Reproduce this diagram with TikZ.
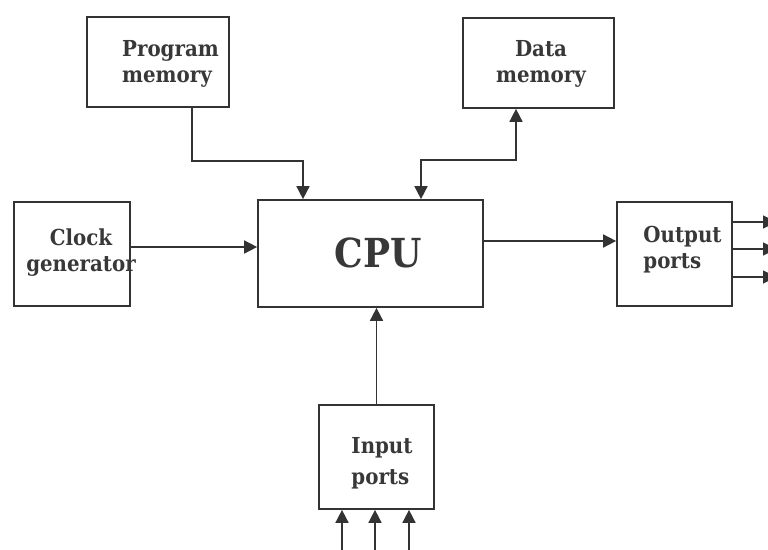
\documentclass[tikz,border=0pt]{standalone}
\usepackage{fontspec}
\setmainfont{DejaVu Serif Condensed}
\usetikzlibrary{positioning, arrows.meta}
\definecolor{inkgrey}{HTML}{333333}
\definecolor{txtgrey}{HTML}{383838}

\begin{document}
\begin{tikzpicture}[x=1pt, y=-1pt,
>={Triangle[length=13pt, width=13pt]},
block/.style={draw=inkgrey, line width=1.7pt, rectangle, inner sep=0pt},
lbl/.style={text=txtgrey, font=\bfseries\fontsize{22}{26}\selectfont, inner sep=0pt},
conn/.style={draw=inkgrey, line width=1.6pt}]

\useasboundingbox (0,0) rectangle (768,549);

% blocks
\node[block, minimum width=142pt, minimum height=90pt]	(pm)	at (158,62)		{};
\node[block, minimum width=151pt, minimum height=90pt]	(dm)	at (538.5,63)	{};
\node[block, minimum width=225pt, minimum height=107pt]	(cpu)	at (370.5,253.5)	{};
\node[block, minimum width=116pt, minimum height=104pt]	(clk)	at (72,254)		{};
\node[block, minimum width=115pt, minimum height=104pt]	(op)	at (674.5,254)	{};
\node[block, minimum width=115pt, minimum height=104pt]	(ip)	at (376.5,457)	{};

% texts
\node[lbl, align=left]		(pmtext)	at (170.5,64)	{Program\\memory};
\node[lbl, align=center]	(dmtext)	at (541,64)		{Data\\memory};
\node[lbl, align=center]	(clktext)	at (81,253)		{Clock\\generator};
\node[lbl, font=\bfseries\fontsize{40}{44}\selectfont]	(cputext)	at (378.5,253)	{CPU};
\node[lbl, align=left]		(optext)	at (682.5,250)	{Output\\ports};
\node[lbl, align=left, font=\bfseries\fontsize{22}{31}\selectfont]	(iptext)	at (382,463)	{Input\\ports};

% free ends
\coordinate (clkout) at ([yshift=7pt]clk.east);
\coordinate (cpuout) at ([yshift=12.5pt]cpu.east);
\coordinate (outedge) at (776,0);
\coordinate (inedge) at (0,552);

\draw[conn, ->] ([xshift=34pt]pm.south) -- ++(0,53) -| ([xshift=-67.5pt]cpu.north);
\draw[conn, <->] ([xshift=50.5pt]cpu.north) -- ++(0,-39) -| ([xshift=-22.5pt]dm.south);
\draw[conn, ->] (clkout) -- (clkout -| cpu.west);
\draw[conn, ->] (cpuout) -- (cpuout -| op.west);
\draw[conn, ->] (ip.north) -- (ip.north |- cpu.south);

\foreach \dy/\n in {32/1, 5/2, -23/3}{
  \coordinate (o\n) at ([yshift=\dy pt]op.east);
  \draw[conn, ->] (o\n) -- (o\n -| outedge);
}
\foreach \dx/\n in {-34.5/1, -1.5/2, 32.5/3}{
  \coordinate (i\n) at ([xshift=\dx pt]ip.south);
  \draw[conn, ->] (i\n |- inedge) -- (i\n);
}

\end{tikzpicture}
\end{document}
